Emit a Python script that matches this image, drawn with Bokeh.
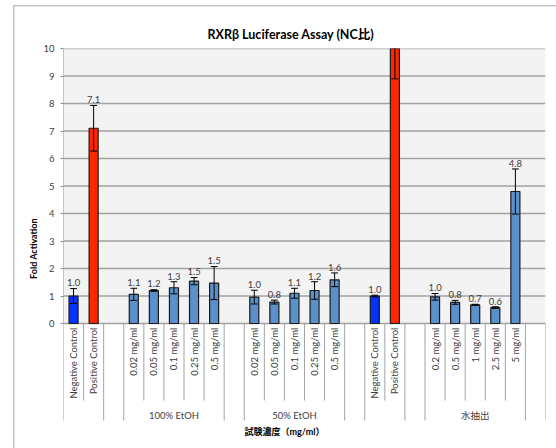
import math
from bokeh.plotting import figure
from bokeh.models import Range1d, FixedTicker, ColumnDataSource
from bokeh.core.properties import value
from bokeh.embed import file_html
from bokeh.resources import INLINE

nan = float("nan")

# ---- data ----
title_text = "RXRβ Luciferase Assay (NC比)"
y_title = "Fold Activation"
x_title = "試験濃度（mg/ml）"
group_names = ["", "", "100% EtOH", "", "50% EtOH", "", "", "", "水抽出", ""]
group_sizes = [2, 1, 5, 1, 5, 1, 2, 1, 5, 1]
categories = ["Negative Control", "Positive Control", "",
              "0.02 mg/ml", "0.05 mg/ml", "0.1 mg/ml", "0.25 mg/ml", "0.5 mg/ml", "",
              "0.02 mg/ml", "0.05 mg/ml", "0.1 mg/ml", "0.25 mg/ml", "0.5 mg/ml", "",
              "Negative Control", "Positive Control", "",
              "0.2 mg/ml", "0.5 mg/ml", "1 mg/ml", "2.5 mg/ml", "5 mg/ml", ""]
values = [1.0, 7.1, nan,
          1.06, 1.2, 1.3, 1.54, 1.47, nan,
          0.96, 0.78, 1.1, 1.2, 1.59, nan,
          1.0, 11.0, nan,
          0.97, 0.77, 0.68, 0.58, 4.8, nan]
errors = [0.27, 0.83, nan,
          0.22, 0.03, 0.22, 0.13, 0.6, nan,
          0.25, 0.07, 0.18, 0.32, 0.25, nan,
          0.03, 2.1, nan,
          0.12, 0.07, 0.02, 0.03, 0.82, nan]
y_ticks = list(range(0, 11))

# ---- styles ----
C_NEG = "#0433FF"
C_POS = "#FF2600"
C_SAMPLE = "#5B91CB"
TXT = "#404040"
LINE = "#a3a3a3"
FONT = value("Lato")
CJK_FONT = "Lato, 'Noto Sans CJK JP'"

n = len(categories)
YMAX = max(y_ticks)
YMIN = -4.545
SHORT_BOTTOM = -2.80
LONG_BOTTOM = -3.527

p = figure(width=556, height=448, output_backend="svg", toolbar_location=None,
           x_range=Range1d(0, n), y_range=Range1d(YMIN, YMAX),
           x_axis_location=None, min_border_left=63, min_border_right=11,
           min_border_top=48, min_border_bottom=0)
p.background_fill_color = "white"
p.border_fill_color = None
p.outline_line_color = None
p.grid.visible = False
p.styles = {
    "background": ("linear-gradient(#c4c4c4,#c4c4c4) 13px 5px / 1.5px 100% no-repeat, "
                   "linear-gradient(#c4c4c4,#c4c4c4) 13px 5px / 100% 1.5px no-repeat, #ffffff")
}

# title
p.title.text = title_text
p.title.align = "left"
p.title.offset = 144
p.title.standoff = 14
p.title.text_font = CJK_FONT
p.title.text_font_size = "12.5px"
p.title.text_font_style = "bold"
p.title.text_color = "black"

# y axis
ya = p.yaxis[0]
ya.ticker = FixedTicker(ticks=y_ticks)
ya.minor_tick_line_color = None
ya.major_tick_in = 0
ya.major_tick_out = 3
ya.major_label_standoff = 6
ya.axis_line_color = None
ya.major_tick_line_color = "#8c8c8c"
ya.major_label_text_font = "Lato"
ya.major_label_text_font_size = "9.5px"
ya.major_label_text_color = TXT
ya.axis_label = y_title
ya.axis_label_text_font = "Lato"
ya.axis_label_text_font_size = "9px"
ya.axis_label_text_font_style = "bold"
ya.axis_label_text_color = "black"
ya.axis_label_standoff = 1

# plot-area background and gridlines
p.quad(left=[0], right=[n], bottom=[min(y_ticks)], top=[YMAX],
       fill_color="#f3f3f3", line_color=None)
p.segment(x0=[0] * len(y_ticks), x1=[n] * len(y_ticks), y0=y_ticks, y1=y_ticks,
          line_color=LINE, line_width=1.4)
# value-axis line
p.segment(x0=[0], x1=[0], y0=[min(y_ticks)], y1=[YMAX], line_color="#8c8c8c", line_width=1)

# bars
xs, tops, cols, err_lo, err_hi, lab_x, lab_y, lab_t = [], [], [], [], [], [], [], []
for i, (c, v, e) in enumerate(zip(categories, values, errors)):
    if math.isnan(v):
        continue
    xs.append(i + 0.5)
    tops.append(v)
    cols.append(C_NEG if c == "Negative Control" else C_POS if c == "Positive Control" else C_SAMPLE)
    err_lo.append(v - e)
    err_hi.append(v + e)
    ly = v + e + 0.08
    if ly < YMAX:
        lab_x.append(i + 0.5)
        lab_y.append(ly)
        lab_t.append(f"{v:.1f}")

src = ColumnDataSource(dict(x=xs, top=tops, color=cols, lo=err_lo, hi=err_hi))
p.vbar(x="x", top="top", bottom=0, width=0.45, fill_color="color",
       line_color="#1a1a1a", line_width=1.2, source=src)
p.segment(x0="x", x1="x", y0="lo", y1="hi", line_color="black", line_width=1, source=src)
cap = 0.17
p.segment(x0=[x - cap for x in xs], x1=[x + cap for x in xs], y0=err_hi, y1=err_hi,
          line_color="black", line_width=1)
p.segment(x0=[x - cap for x in xs], x1=[x + cap for x in xs], y0=err_lo, y1=err_lo,
          line_color="black", line_width=1)
p.text(x=lab_x, y=lab_y, text=lab_t, text_font=FONT, text_font_size="9.5px",
       text_color=TXT, text_align="center", text_baseline="bottom")

# category axis: separators
bounds_long = [0]
acc = 0
for s in group_sizes:
    acc += s
    bounds_long.append(acc)
bounds_short = [k for k in range(1, n) if k not in bounds_long]
p.segment(x0=bounds_long, x1=bounds_long, y0=[0] * len(bounds_long),
          y1=[LONG_BOTTOM] * len(bounds_long), line_color=LINE, line_width=1)
p.segment(x0=bounds_short, x1=bounds_short, y0=[0] * len(bounds_short),
          y1=[SHORT_BOTTOM] * len(bounds_short), line_color=LINE, line_width=1)

# category labels
cx = [i + 0.5 for i, c in enumerate(categories) if c]
ct = [c for c in categories if c]
p.text(x=cx, y=[-0.15] * len(cx), text=ct, angle=math.pi / 2, text_font=FONT,
       text_font_size="9.5px", text_color=TXT, text_align="right", text_baseline="middle")

# group labels
gx, gt = [], []
start = 0
for g, s in zip(group_names, group_sizes):
    if g:
        gx.append(start + s / 2)
        gt.append(g)
    start += s
p.text(x=gx, y=[-3.34] * len(gx), text=gt, text_font=value(CJK_FONT), text_font_size="9.5px",
       text_color=TXT, text_align="center", text_baseline="middle")

# category-axis title
p.text(x=[11.0], y=[-3.93], text=[x_title], text_font=value(CJK_FONT), text_font_size="9px",
       text_font_style="bold", text_color="black", text_align="center", text_baseline="middle")

open("out.html", "w").write(file_html(p, INLINE))
